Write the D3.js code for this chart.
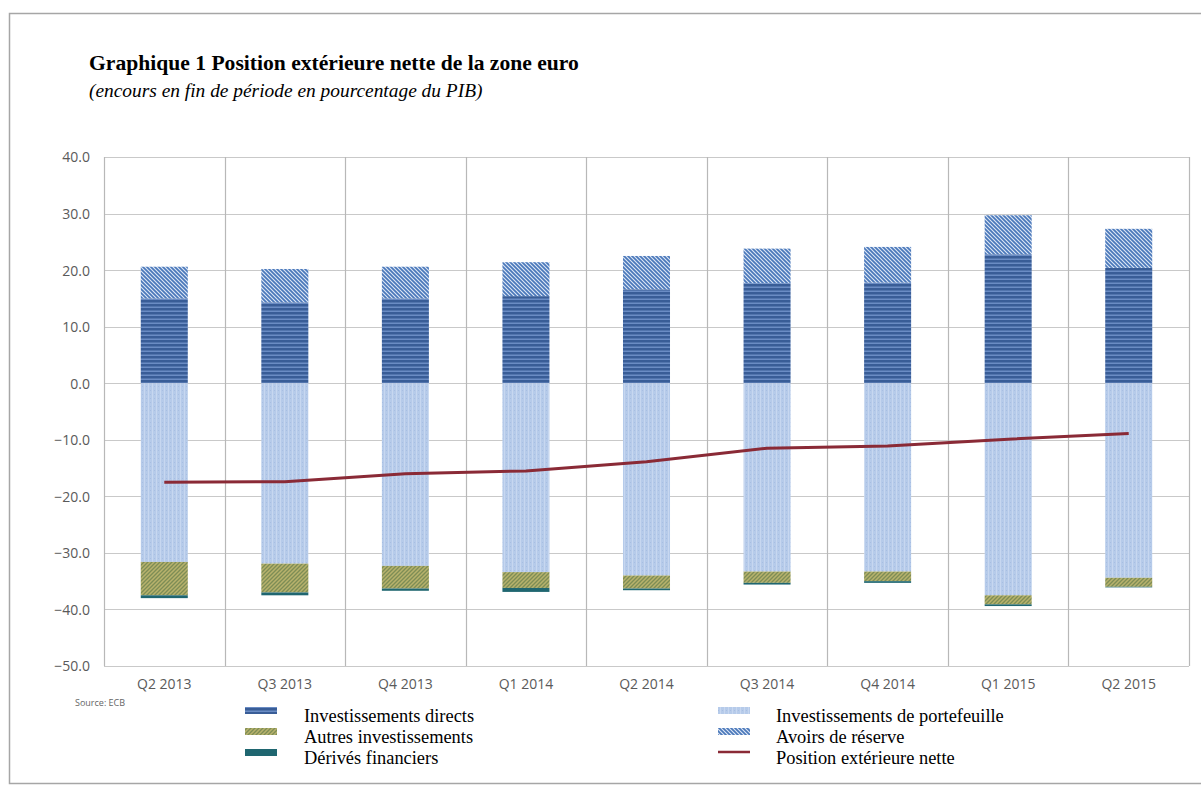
<!DOCTYPE html>
<html>
<head>
<meta charset="utf-8">
<script src="https://cdn.jsdelivr.net/npm/d3@7/dist/d3.min.js"></script>
<style>
  body { margin: 0; background: #fff; }
  svg { display: block; }
</style>
</head>
<body>
<svg id="chart" width="1201" height="789"></svg>
<script>
// quarters on the x axis
const quarters = ["Q2 2013", "Q3 2013", "Q4 2013", "Q1 2014", "Q2 2014", "Q3 2014", "Q4 2014", "Q1 2015", "Q2 2015"];

// stacked components, % of GDP
const directInv   = [15.0, 14.3, 15.0, 15.4, 16.6, 17.7, 17.8, 22.8, 20.4];
const reserves    = [5.6, 5.9, 5.6, 6.0, 5.9, 6.1, 6.3, 6.9, 6.9];
const portfolio   = [-31.6, -31.9, -32.3, -33.4, -34.0, -33.3, -33.3, -37.5, -34.4];
const otherInv    = [-5.9, -5.1, -4.0, -2.8, -2.3, -2.0, -1.7, -1.6, -1.6];
const derivatives = [-0.5, -0.5, -0.4, -0.7, -0.3, -0.3, -0.3, -0.3, -0.1];

// net international investment position
const netPosition = [-17.5, -17.4, -16.0, -15.5, -13.9, -11.5, -11.1, -9.9, -8.9];

const yTicks = [40, 30, 20, 10, 0, -10, -20, -30, -40, -50];

const svg = d3.select("#chart");

// outer frame
svg.append("rect")
  .attr("x", 9.5).attr("y", 13.5)
  .attr("width", 1200).attr("height", 770)
  .attr("fill", "none").attr("stroke", "#a6a6a6").attr("stroke-width", 1.5);

// title
svg.append("text")
  .attr("x", 89).attr("y", 70)
  .style("font-family", "'Liberation Serif', 'Times New Roman', serif")
  .style("font-size", "21.6px").style("font-weight", "bold")
  .text("Graphique 1 Position extérieure nette de la zone euro");
svg.append("text")
  .attr("x", 89).attr("y", 97)
  .style("font-family", "'Liberation Serif', 'Times New Roman', serif")
  .style("font-size", "19.4px").style("font-style", "italic")
  .text("(encours en fin de période en pourcentage du PIB)");

//Patterns for the bar fills
const defs = svg.append("defs");

let pDirect = defs.append("pattern").attr("id", "pDirect")
  .attr("patternUnits", "userSpaceOnUse").attr("width", 4).attr("height", 4);
pDirect.append("rect").attr("width", 4).attr("height", 4).attr("fill", "#395d97");
pDirect.append("rect").attr("y", 2.5).attr("width", 4).attr("height", 1.5).attr("fill", "#6a8cc4");

let pRes = defs.append("pattern").attr("id", "pRes")
  .attr("patternUnits", "userSpaceOnUse").attr("width", 4).attr("height", 4);
pRes.append("rect").attr("width", 4).attr("height", 4).attr("fill", "#dce6f5");
pRes.append("path").attr("d", "M-1,-1 L5,5 M-1,3 L1,5 M3,-1 L5,1")
  .attr("stroke", "#4a78ba").attr("stroke-width", 1.7);

let pPort = defs.append("pattern").attr("id", "pPort")
  .attr("patternUnits", "userSpaceOnUse").attr("width", 4).attr("height", 4);
pPort.append("rect").attr("width", 4).attr("height", 4).attr("fill", "#b6cbea");
pPort.append("rect").attr("x", 0).attr("width", 1).attr("height", 4).attr("fill", "#c7d7f0");
pPort.append("rect").attr("x", 2).attr("y", 2).attr("width", 1).attr("height", 1).attr("fill", "#a8bee2");

let pOther = defs.append("pattern").attr("id", "pOther")
  .attr("patternUnits", "userSpaceOnUse").attr("width", 4).attr("height", 4);
pOther.append("rect").attr("width", 4).attr("height", 4).attr("fill", "#7d8d55");
pOther.append("path").attr("d", "M-1,5 L5,-1 M-1,1 L1,-1 M3,5 L5,3")
  .attr("stroke", "#b8b26c").attr("stroke-width", 1.5);

// plot area
const x = d3.scaleBand()
  .domain(quarters)
  .range([104, 1189])
  .paddingInner(0.61)
  .paddingOuter(0.305);

const y = d3.scaleLinear()
  .domain([-50, 40])
  .range([666, 157]);

const step = x.step();

// horizontal gridlines
svg.append("g").selectAll("line")
  .data(yTicks)
  .enter().append("line")
    .attr("x1", 104).attr("x2", 1189)
    .attr("y1", d => Math.round(y(d)) + 0.5).attr("y2", d => Math.round(y(d)) + 0.5)
    .attr("stroke", "#c9c9c9").attr("stroke-width", 1.2);

// vertical gridlines at category boundaries
const bounds = quarters.map(q => x(q) + x.bandwidth() / 2 - step / 2).concat([1189]);
svg.append("g").selectAll("line")
  .data(bounds)
  .enter().append("line")
    .attr("x1", d => Math.round(d) + 0.5).attr("x2", d => Math.round(d) + 0.5)
    .attr("y1", 157).attr("y2", 666)
    .attr("stroke", "#b8b8b8").attr("stroke-width", 1.2);

// y axis labels
const yAxis = svg.append("g")
  .attr("transform", "translate(90,0)")
  .call(d3.axisLeft(y).tickValues(yTicks).tickSize(0).tickFormat(d3.format(".1f")));
yAxis.select(".domain").remove();
yAxis.selectAll("text")
  .attr("x", 0).attr("dy", "0.35em")
  .style("font-family", "'Open Sans', Lato, sans-serif")
  .style("font-size", "14px").attr("fill", "#5a5a5a");

// x axis labels
const xAxis = svg.append("g")
  .attr("transform", "translate(0,679)")
  .call(d3.axisBottom(x).tickSize(0));
xAxis.select(".domain").remove();
xAxis.selectAll("text")
  .attr("y", 0).attr("dy", "0.71em")
  .style("font-family", "'Open Sans', Lato, sans-serif")
  .style("font-size", "14px").attr("fill", "#5a5a5a");

svg.append("text")
  .attr("x", 75).attr("y", 706)
  .style("font-family", "'Open Sans', Lato, sans-serif")
  .style("font-size", "9px").attr("fill", "#666")
  .text("Source: ECB");

// build stacked segments
const series = [
  { key: "direct", vals: directInv, fill: "url(#pDirect)" },
  { key: "reserves", vals: reserves, fill: "url(#pRes)" },
  { key: "portfolio", vals: portfolio, fill: "url(#pPort)" },
  { key: "other", vals: otherInv, fill: "url(#pOther)" },
  { key: "deriv", vals: derivatives, fill: "#1f6670" }
];

let segs = [];
quarters.forEach(function(q, i) {
  let pos = 0, neg = 0;
  series.forEach(function(s) {
    let v = s.vals[i];
    let y0, y1;
    if (v >= 0) { y0 = pos; y1 = pos + v; pos = y1; }
    else { y0 = neg; y1 = neg + v; neg = y1; }
    segs.push({ q: q, y0: y0, y1: y1, fill: s.fill });
  });
});

svg.append("g").selectAll("rect")
  .data(segs)
  .enter().append("rect")
    .attr("x", d => x(d.q))
    .attr("width", x.bandwidth())
    .attr("y", d => y(Math.max(d.y0, d.y1)))
    .attr("height", d => Math.abs(y(d.y0) - y(d.y1)))
    .attr("fill", d => d.fill);

// net position line
const line = d3.line()
  .x((d, i) => x(quarters[i]) + x.bandwidth() / 2)
  .y(d => y(d));

svg.append("path")
  .datum(netPosition)
  .attr("d", line)
  .attr("fill", "none")
  .attr("stroke", "#8a2a36")
  .attr("stroke-width", 3);

// legend
const legendItems = [
  { label: "Investissements directs", fill: "url(#pDirect)", col: 0, row: 0 },
  { label: "Autres investissements", fill: "url(#pOther)", col: 0, row: 1 },
  { label: "Dérivés financiers", fill: "#1f6670", col: 0, row: 2 },
  { label: "Investissements de portefeuille", fill: "url(#pPort)", col: 1, row: 0 },
  { label: "Avoirs de réserve", fill: "url(#pRes)", col: 1, row: 1 },
  { label: "Position extérieure nette", fill: null, col: 1, row: 2 }
];
const colX = [245, 718];
const textX = [304, 776];

let leg = svg.append("g").selectAll("g")
  .data(legendItems)
  .enter().append("g")
    .attr("transform", d => "translate(0," + (716 + d.row * 21) + ")");

leg.filter(d => d.fill).append("rect")
  .attr("x", d => colX[d.col]).attr("y", -9)
  .attr("width", 32).attr("height", 7)
  .attr("fill", d => d.fill);
leg.filter(d => !d.fill).append("line")
  .attr("x1", d => colX[d.col]).attr("x2", d => colX[d.col] + 32)
  .attr("y1", -6).attr("y2", -6)
  .attr("stroke", "#8a2a36").attr("stroke-width", 2.5);

leg.append("text")
  .attr("x", d => textX[d.col]).attr("y", 0)
  .attr("dy", "0.32em")
  .style("font-family", "'Liberation Serif', 'Times New Roman', serif")
  .style("font-size", "18.4px")
  .text(d => d.label);
</script>
</body>
</html>
